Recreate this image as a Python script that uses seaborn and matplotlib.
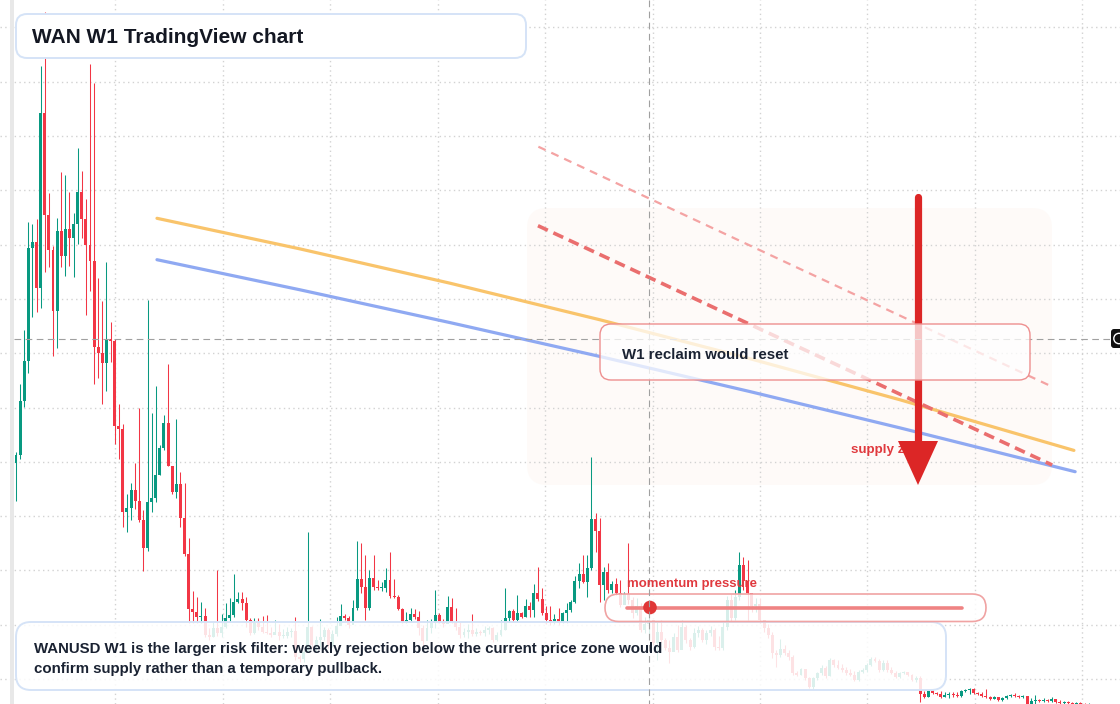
import numpy as np
import pandas as pd
import matplotlib
matplotlib.use("Agg")
import matplotlib.pyplot as plt
import matplotlib.transforms as mtransforms
from matplotlib.patches import FancyBboxPatch, Polygon, Circle, Rectangle
from matplotlib.lines import Line2D
import seaborn as sns

# ---------------- data (weekly candles, price in chart units) ----------------
first_open = 247
closes = [255, 309, 349, 462, 468, 422, 597, 495, 460, 399, 479, 454, 481, 472, 486, 518, 491, 465, 449, 363,
          357, 347, 371, 369, 284, 281, 198, 202, 220, 209, 190, 162, 208, 212, 235, 262, 287, 244, 218, 226,
          192, 156, 101, 98, 93, 94, 75, 73, 82, 77, 83, 92, 95, 108, 111, 107, 90, 77, 87, 83,
          78, 77, 75, 78, 74, 74, 78, 79, 53, 51, 58, 83, 65, 70, 73, 80, 65, 76, 84, 94,
          92, 85, 102, 131, 123, 102, 132, 123, 122, 122, 130, 114, 113, 101, 88, 90, 96, 93, 82, 69,
          82, 87, 95, 88, 86, 103, 88, 83, 75, 78, 80, 76, 78, 77, 80, 82, 70, 75, 80, 92,
          99, 90, 97, 93, 104, 100, 117, 111, 97, 90, 88, 91, 88, 97, 100, 108, 129, 136, 128, 142,
          191, 179, 125, 138, 120, 126, 117, 105, 116, 110, 97, 104, 80, 86, 90, 67, 78, 70, 62, 58,
          73, 60, 83, 70, 63, 77, 80, 70, 77, 80, 63, 62, 83, 110, 92, 113, 145, 129, 117, 104,
          106, 90, 82, 75, 57, 55, 61, 57, 53, 37, 35, 41, 32, 23, 32, 37, 42, 34, 50, 45,
          42, 40, 37, 35, 30, 38, 40, 45, 51, 49, 40, 47, 40, 37, 33, 37, 38, 35, 30, 32,
          16, 13, 19, 17, 16, 13, 15, 16, 15, 14, 19, 20, 21, 17, 16, 14, 13, 11, 13, 10,
          12, 14, 15, 14, 13, 14, 6, 9, 10, 9, 10, 9, 11, 8, 7, 8, 7, 6, 7, 6,
          5, 5]
highs = [258, 326, 380, 488, 486, 491, 644, 698, 517, 464, 492, 538, 535, 518, 497, 562, 539, 511, 646, 627,
         432, 409, 448, 388, 371, 306, 286, 216, 227, 247, 302, 200, 410, 297, 324, 265, 295, 346, 244, 291,
         238, 227, 172, 119, 113, 108, 102, 82, 88, 140, 96, 107, 112, 136, 118, 118, 113, 92, 92, 92,
         94, 95, 83, 90, 86, 81, 83, 82, 93, 55, 60, 178, 84, 74, 91, 83, 82, 80, 93, 106,
         96, 94, 110, 169, 167, 155, 140, 155, 130, 128, 142, 158, 131, 115, 102, 98, 102, 101, 99, 85,
         90, 91, 120, 97, 91, 114, 112, 102, 88, 82, 86, 96, 82, 80, 84, 84, 83, 78, 90, 122,
         100, 101, 115, 98, 111, 108, 126, 143, 122, 104, 104, 96, 102, 98, 107, 110, 134, 147, 155, 155,
         253, 197, 192, 143, 147, 129, 132, 130, 118, 167, 113, 112, 107, 93, 102, 90, 88, 90, 72, 70,
         77, 85, 90, 85, 72, 82, 84, 82, 80, 84, 82, 74, 88, 114, 116, 120, 158, 153, 150, 112,
         112, 112, 90, 86, 78, 60, 71, 65, 60, 55, 39, 42, 40, 33, 33, 38, 45, 44, 52, 51,
         50, 46, 43, 41, 39, 40, 42, 47, 53, 53, 51, 50, 50, 43, 39, 38, 39, 38, 36, 34,
         34, 19, 20, 20, 18, 19, 18, 18, 18, 18, 20, 21, 22, 22, 18, 18, 21, 14, 14, 13,
         13, 15, 16, 17, 15, 15, 14, 12, 15, 11, 12, 11, 13, 11, 10, 9, 9, 8, 8, 8,
         7, 7]
lows = [209, 251, 303, 337, 393, 398, 402, 438, 443, 354, 362, 443, 434, 444, 433, 466, 472, 395, 419, 326,
        332, 306, 319, 348, 266, 251, 183, 178, 190, 201, 188, 139, 159, 198, 208, 235, 260, 244, 216, 212,
        183, 154, 87, 87, 87, 87, 73, 70, 73, 74, 73, 82, 88, 93, 107, 100, 83, 75, 76, 80,
        77, 76, 73, 76, 70, 72, 72, 73, 50, 48, 48, 63, 62, 58, 63, 70, 62, 63, 74, 87,
        90, 82, 90, 100, 117, 90, 100, 120, 120, 119, 118, 112, 112, 100, 87, 87, 88, 91, 75, 64,
        71, 77, 82, 87, 83, 87, 87, 80, 72, 73, 72, 74, 74, 75, 74, 76, 68, 69, 74, 80,
        88, 88, 89, 92, 93, 93, 93, 109, 95, 86, 85, 86, 85, 87, 87, 98, 107, 122, 127, 113,
        140, 158, 108, 110, 117, 117, 115, 103, 110, 106, 92, 95, 78, 77, 73, 65, 50, 68, 60, 47,
        62, 58, 69, 67, 60, 62, 73, 68, 66, 74, 60, 60, 60, 80, 88, 90, 110, 120, 90, 98,
        98, 87, 78, 72, 52, 43, 53, 55, 50, 35, 34, 35, 30, 22, 21, 30, 35, 32, 34, 43,
        41, 38, 35, 34, 29, 29, 37, 38, 44, 48, 38, 39, 38, 36, 32, 32, 36, 34, 29, 28,
        8, 12, 13, 16, 15, 12, 13, 12, 13, 13, 13, 18, 16, 16, 15, 13, 12, 10, 11, 9,
        9, 11, 13, 13, 12, 12, 3, 4, 5, 8, 8, 8, 8, 7, 5, 5, 5, 4, 5, 4,
        4, 3]

# moving averages (read points) and trend lines
ma_fast_x = [34.3, 69.1, 105.6, 142.1, 178.6, 215.1, 257.4]
ma_fast_y = [491.7, 461.1, 426.8, 390.2, 351.3, 310.2, 259.6]
ma_slow_x = [34.3, 69.1, 105.6, 142.1, 178.6, 215.1, 257.7]
ma_slow_y = [450.3, 420.2, 387.4, 353.5, 318.4, 282.1, 238.3]
trend_upper_x = [127.1, 252.1]
trend_upper_y = [563.3, 323.3]
trend_lower_x = [127.0, 252.1]
trend_lower_y = [484.3, 245.0]

grid_weeks = [24.2, 50.3, 76.5, 102.6, 128.7, 154.9, 181.0, 207.1, 233.3, 259.4]
grid_prices = [682.6, 628.3, 574.0, 519.7, 465.4, 411.1, 356.8, 302.5, 248.2, 193.9, 139.6, 85.3, 31.0]

title_text = "WAN W1 TradingView chart"
note_lines = ["WANUSD W1 is the larger risk filter: weekly rejection below the current price zone would",
              "confirm supply rather than a temporary pullback."]
reclaim_text = "W1 reclaim would reset"
momentum_text = "momentum pressure"
supply_text = "supply zone"

# ---------------- build frame ----------------
df = pd.DataFrame({"week": np.arange(len(closes)), "close": closes, "high": highs, "low": lows})
df["open"] = [first_open] + closes[:-1]
df["up"] = df["close"] >= df["open"]

sns.set_theme(style="white")
plt.rcParams["font.family"] = ["Liberation Sans", "DejaVu Sans"]

W, H = 1120, 704
fig = plt.figure(figsize=(W / 100, H / 100), dpi=100)
ax = fig.add_axes([0, 0, 1, 1])
ax.set_xlim(-3.893, 268.613)
ax.set_ylim(6, 710)
for s in ax.spines.values():
    s.set_visible(False)
ax.set_xticks(grid_weeks)
ax.set_yticks(grid_prices)
ax.tick_params(length=0, labelbottom=False, labelleft=False)
ax.set_axisbelow(True)
ax.grid(True, color="#d2d2d2", linestyle=(0, (1, 2.4)), linewidth=1.0)

pix = mtransforms.Affine2D().scale(1 / W, -1 / H).translate(0, 1) + fig.transFigure

# left strip
ax.add_patch(Rectangle((10, 0), 4.3, H, transform=pix, fc="#e8e8e8", ec="none", zorder=1))

# zone
ax.add_patch(FancyBboxPatch((527, 208), 525, 277, boxstyle="round,pad=0,rounding_size=20",
                            transform=pix, fc="#fcefe4", ec="none", alpha=0.26, zorder=0.3))

# candles
GREEN, RED = "#089981", "#f23645"
colors = np.where(df["up"], GREEN, RED)
ax.vlines(df["week"], df["low"], df["high"], colors=colors, linewidth=0.75, zorder=2)
body = (df["close"] - df["open"]).to_numpy(dtype=float)
body = np.where(np.abs(body) < 1.0, np.where(body >= 0, 1.0, -1.0), body)
ax.bar(df["week"], body, bottom=df["open"], width=0.72, color=colors, linewidth=0, zorder=2.1)

# moving averages
sns.lineplot(x=ma_fast_x, y=ma_fast_y, ax=ax, color="#f9c46b", linewidth=2.3, zorder=3, sort=False)
sns.lineplot(x=ma_slow_x, y=ma_slow_y, ax=ax, color="#8fa9f2", linewidth=2.3, zorder=3, sort=False)
l1 = sns.lineplot(x=trend_upper_x, y=trend_upper_y, ax=ax, color="#f4a3a3", linewidth=1.6, zorder=3, sort=False).lines[-1]
l1.set_linestyle((0, (3.6, 2.8)))
l2 = sns.lineplot(x=trend_lower_x, y=trend_lower_y, ax=ax, color="#ea6e6e", linewidth=2.6, zorder=3, sort=False).lines[-1]
l2.set_linestyle((0, (3.0, 1.7)))

# supply zone label and arrow
ax.text(851, 452.5, supply_text, transform=pix, color="#e0393e", fontsize=9.6, fontweight="bold",
        va="baseline", ha="left", zorder=3.5)
ax.add_line(Line2D([918, 918], [197, 446], transform=pix, color="#dc2626", linewidth=5.2,
                   solid_capstyle="round", zorder=4))
ax.add_patch(Polygon([(898, 441), (938, 441), (918, 485)], closed=True, transform=pix,
                     fc="#dc2626", ec="none", zorder=4))

# bottom note box
ax.add_patch(FancyBboxPatch((16, 622), 930, 68, boxstyle="round,pad=0,rounding_size=15",
                            transform=pix, fc=(1, 1, 1, 0.86), ec="#d5e3f7", linewidth=1.4, zorder=4.2))
ax.text(34, 653.3, note_lines[0], transform=pix, color="#1a2232", fontsize=10.8, fontweight="bold",
        va="baseline", ha="left", zorder=6)
ax.text(34, 673.3, note_lines[1], transform=pix, color="#1a2232", fontsize=10.8, fontweight="bold",
        va="baseline", ha="left", zorder=6)

# momentum pill
ax.add_patch(FancyBboxPatch((605, 594), 381, 27.5, boxstyle="round,pad=0,rounding_size=13.7",
                            transform=pix, fc=(1, 1, 1, 0.84), ec="#f0a3a3", linewidth=1.2, zorder=4.2))
ax.add_line(Line2D([627, 962], [607.5, 607.5], transform=pix, color="#ef8383", linewidth=2.6, zorder=4.3))
ax.add_patch(Circle((650, 607.5), 6.8, transform=pix, fc="#e03636", ec="none", zorder=4.4))
ax.text(627, 587.3, momentum_text, transform=pix, color="#e0393e", fontsize=9.45, fontweight="bold",
        va="baseline", ha="left", zorder=6)

# crosshair
ax.add_line(Line2D([649, 649], [0, H], transform=pix, color="#a0a0a0", linewidth=0.8,
                   linestyle=(0, (6, 4)), zorder=4.6))
ax.add_line(Line2D([14, 1111], [338.5, 338.5], transform=pix, color="#a0a0a0", linewidth=0.8,
                   linestyle=(0, (6, 4)), zorder=4.6))
ax.add_patch(FancyBboxPatch((1111, 329), 16, 19, boxstyle="round,pad=0,rounding_size=3",
                            transform=pix, fc="#111111", ec="none", zorder=7))
ax.add_patch(Circle((1119, 338.5), 5.2, transform=pix, fc="none", ec="white", linewidth=1.0, zorder=7.1))

# reclaim box
ax.add_patch(FancyBboxPatch((600, 324), 430, 56, boxstyle="round,pad=0,rounding_size=11",
                            transform=pix, fc=(1, 1, 1, 0.74), ec="#ee8f8f", linewidth=1.0, zorder=5))
ax.text(622, 359.3, reclaim_text, transform=pix, color="#1a2232", fontsize=10.8, fontweight="bold",
        va="baseline", ha="left", zorder=6)

# title box
ax.add_patch(FancyBboxPatch((16, 14), 510, 44, boxstyle="round,pad=0,rounding_size=11",
                            transform=pix, fc="white", ec="#d5e3f7", linewidth=1.4, zorder=7))
ax.text(32, 43.4, title_text, transform=pix, color="#131722", fontsize=15.0, fontweight="bold",
        va="baseline", ha="left", zorder=8)

fig.savefig("out.png", dpi=100)
